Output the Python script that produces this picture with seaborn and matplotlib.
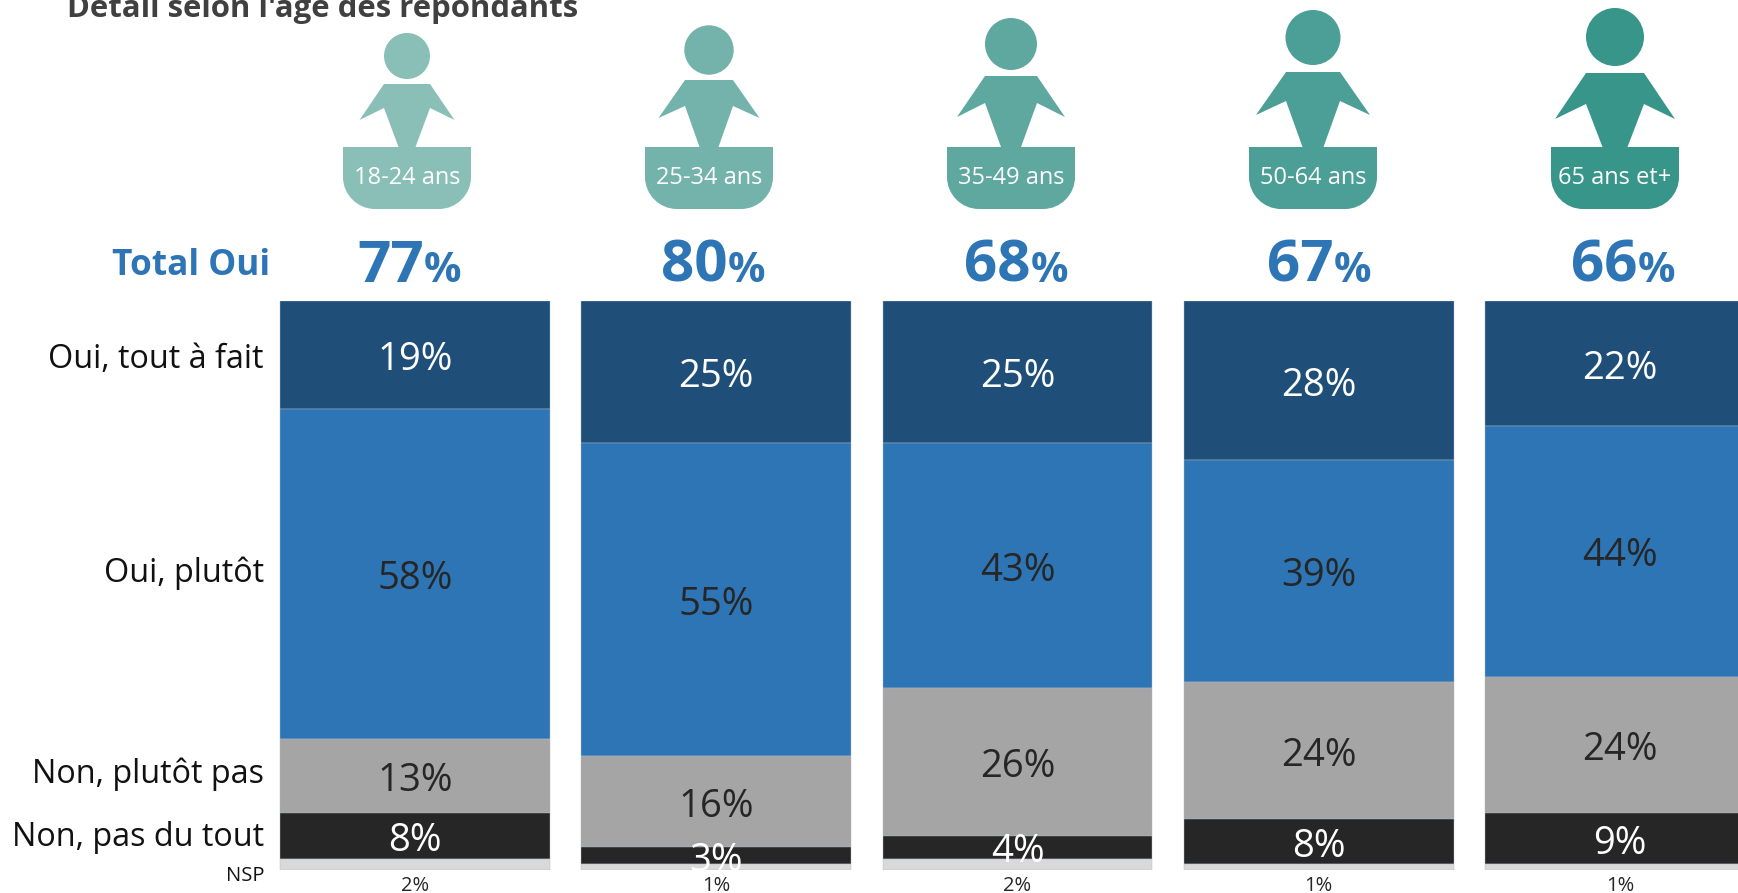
import numpy as np
import pandas as pd
import matplotlib
matplotlib.use("Agg")
import matplotlib.pyplot as plt
import seaborn as sns
from matplotlib.patches import Circle, PathPatch, Polygon
from matplotlib.path import Path

# --- DATA ---
AGES = ["18-24 ans", "25-34 ans", "35-49 ans", "50-64 ans", "65 ans et+"]
TOTAL_OUI = [77, 80, 68, 67, 66]
OUI_TOUT = [19, 25, 25, 28, 22]
OUI_PLUTOT = [58, 55, 43, 39, 44]
NON_PLUTOT = [13, 16, 26, 24, 24]
NON_TOUT = [8, 3, 4, 8, 9]
NSP = [2, 1, 2, 1, 1]
ROW_LABELS = ["Oui, tout à fait", "Oui, plutôt", "Non, plutôt pas", "Non, pas du tout", "NSP"]
TITLE = "Détail selon l'âge des répondants"

# --- STYLE ---
SEGMENT_COLORS = ["#1F4E79", "#2E75B6", "#A5A5A5", "#262626", "#D9D9D9"]
LABEL_COLORS = ["white", "#262626", "#262626", "white"]
ICON_COLORS = ["#8ABFB8", "#74B3AC", "#5FA8A0", "#4C9F96", "#38958A"]
BLUE = "#2E75B6"
W, H = 1738, 893

# icon layout in pixels: centre x, head y, head radius, shoulder half width,
# shoulder y, armpit y, arm half span, arm tip y, waist half width, plate left
ICONS = [
    (407, 56, 23, 23, 84, 108, 47.5, 120, 8.5, 343),
    (709, 50, 24.7, 24, 80, 106, 50.5, 118, 9.5, 645),
    (1011, 44, 26, 26, 76, 103, 54, 117, 10, 947),
    (1313, 37.5, 27.5, 27, 72, 101, 57, 115, 10.5, 1249),
    (1615, 37, 29, 29, 73, 104, 60, 119, 12.5, 1551),
]
PLATE_W = 128
CORNER = 32
# x of the join between the big digits and the smaller % sign
TOTAL_SPLIT = [424, 728, 1031, 1334, 1637.5]


def draw_icon(ax, icon, color, label):
    cx, hy, r, sw, sy, py, span, ty, ww, left = icon
    ax.add_patch(Circle((cx, hy), r, color=color, lw=0))
    body = [(cx - sw, sy), (cx + sw, sy), (cx + span, ty), (cx + sw, py),
            (cx + ww, 147), (cx - ww, 147), (cx - sw, py), (cx - span, ty)]
    ax.add_patch(Polygon(body, closed=True, color=color, lw=0))
    # plate with rounded bottom corners
    right = left + PLATE_W
    k = CORNER * 0.55
    top, bot = 147, 209
    verts = [(left, top), (right, top), (right, bot - CORNER),
             (right, bot - CORNER + k), (right - CORNER + k, bot), (right - CORNER, bot),
             (left + CORNER, bot),
             (left + CORNER - k, bot), (left, bot - CORNER + k), (left, bot - CORNER),
             (left, top)]
    codes = [Path.MOVETO, Path.LINETO, Path.LINETO,
             Path.CURVE4, Path.CURVE4, Path.CURVE4,
             Path.LINETO,
             Path.CURVE4, Path.CURVE4, Path.CURVE4,
             Path.CLOSEPOLY]
    ax.add_patch(PathPatch(Path(verts, codes), color=color, lw=0))
    ax.text(left + PLATE_W / 2, 178, label, color="white", fontsize=17, ha="center", va="center")


def main():
    sns.set_theme(style="white")
    plt.rcParams["font.family"] = ["Open Sans", "DejaVu Sans"]

    fig = plt.figure(figsize=(W / 100, H / 100), dpi=100, facecolor="white")

    # bars: category pitch 301.25 px, first category centred on x=415
    pitch = 301.25
    left_px = 415 - pitch / 2
    ax = fig.add_axes([left_px / W, (H - 870) / H, (W - left_px) / W, (870 - 301) / H])

    segments = [OUI_TOUT, OUI_PLUTOT, NON_PLUTOT, NON_TOUT, NSP]
    bottom = np.zeros(len(AGES))
    for i, seg in enumerate(segments):
        df = pd.DataFrame({"age": AGES, "value": seg})
        sns.barplot(data=df, x="age", y="value", order=AGES, bottom=bottom, ax=ax,
                    color=SEGMENT_COLORS[i], saturation=1, width=0.896, errorbar=None,
                    edgecolor="#AEBBC7", linewidth=0.3)
        if i < 4:
            for j, v in enumerate(seg):
                ax.annotate(f"{v}%", (j, bottom[j] + v / 2), xytext=(0, -5),
                            textcoords="offset pixels", ha="center", va="center",
                            color=LABEL_COLORS[i], fontsize=27.5, zorder=5, annotation_clip=False)
        bottom = bottom + np.array(seg)

    ax.set_xlim(-0.5, (W - 415) / pitch)
    ax.set_ylim(100, 0)
    ax.set_axis_off()

    # NSP values under the bars
    for j, v in enumerate(NSP):
        ax.annotate(f"{v}%", (j, 100), xytext=(0, -16), textcoords="offset pixels",
                    ha="center", va="center", color="#262626", fontsize=14.5, annotation_clip=False)

    # overlay in pixel coordinates for the header and row labels
    over = fig.add_axes([0, 0, 1, 1], facecolor="none")
    over.set_xlim(0, W)
    over.set_ylim(H, 0)
    over.set_axis_off()

    over.text(67, 17, TITLE, color="#404040", fontsize=22.4, fontweight="bold", ha="left", va="baseline")

    for icon, color, age in zip(ICONS, ICON_COLORS, AGES):
        draw_icon(over, icon, color, age)

    over.text(270, 266, "Total Oui", color=BLUE, fontsize=25.4, fontweight="bold", ha="right", va="center")
    for split, total in zip(TOTAL_SPLIT, TOTAL_OUI):
        over.text(split, 282, str(total), color=BLUE, fontsize=42, fontweight="bold", ha="right", va="baseline")
        over.text(split, 282, "%", color=BLUE, fontsize=30, fontweight="bold", ha="left", va="baseline")

    row_y = [360, 573, 774, 838, 876]
    row_size = [23.3, 23.3, 23.3, 23.3, 14.5]
    for text, y, size in zip(ROW_LABELS, row_y, row_size):
        over.text(264, y, text, color="#111111", fontsize=size, ha="right", va="center")

    fig.savefig("out.png", dpi=100, facecolor="white")


if __name__ == "__main__":
    main()
